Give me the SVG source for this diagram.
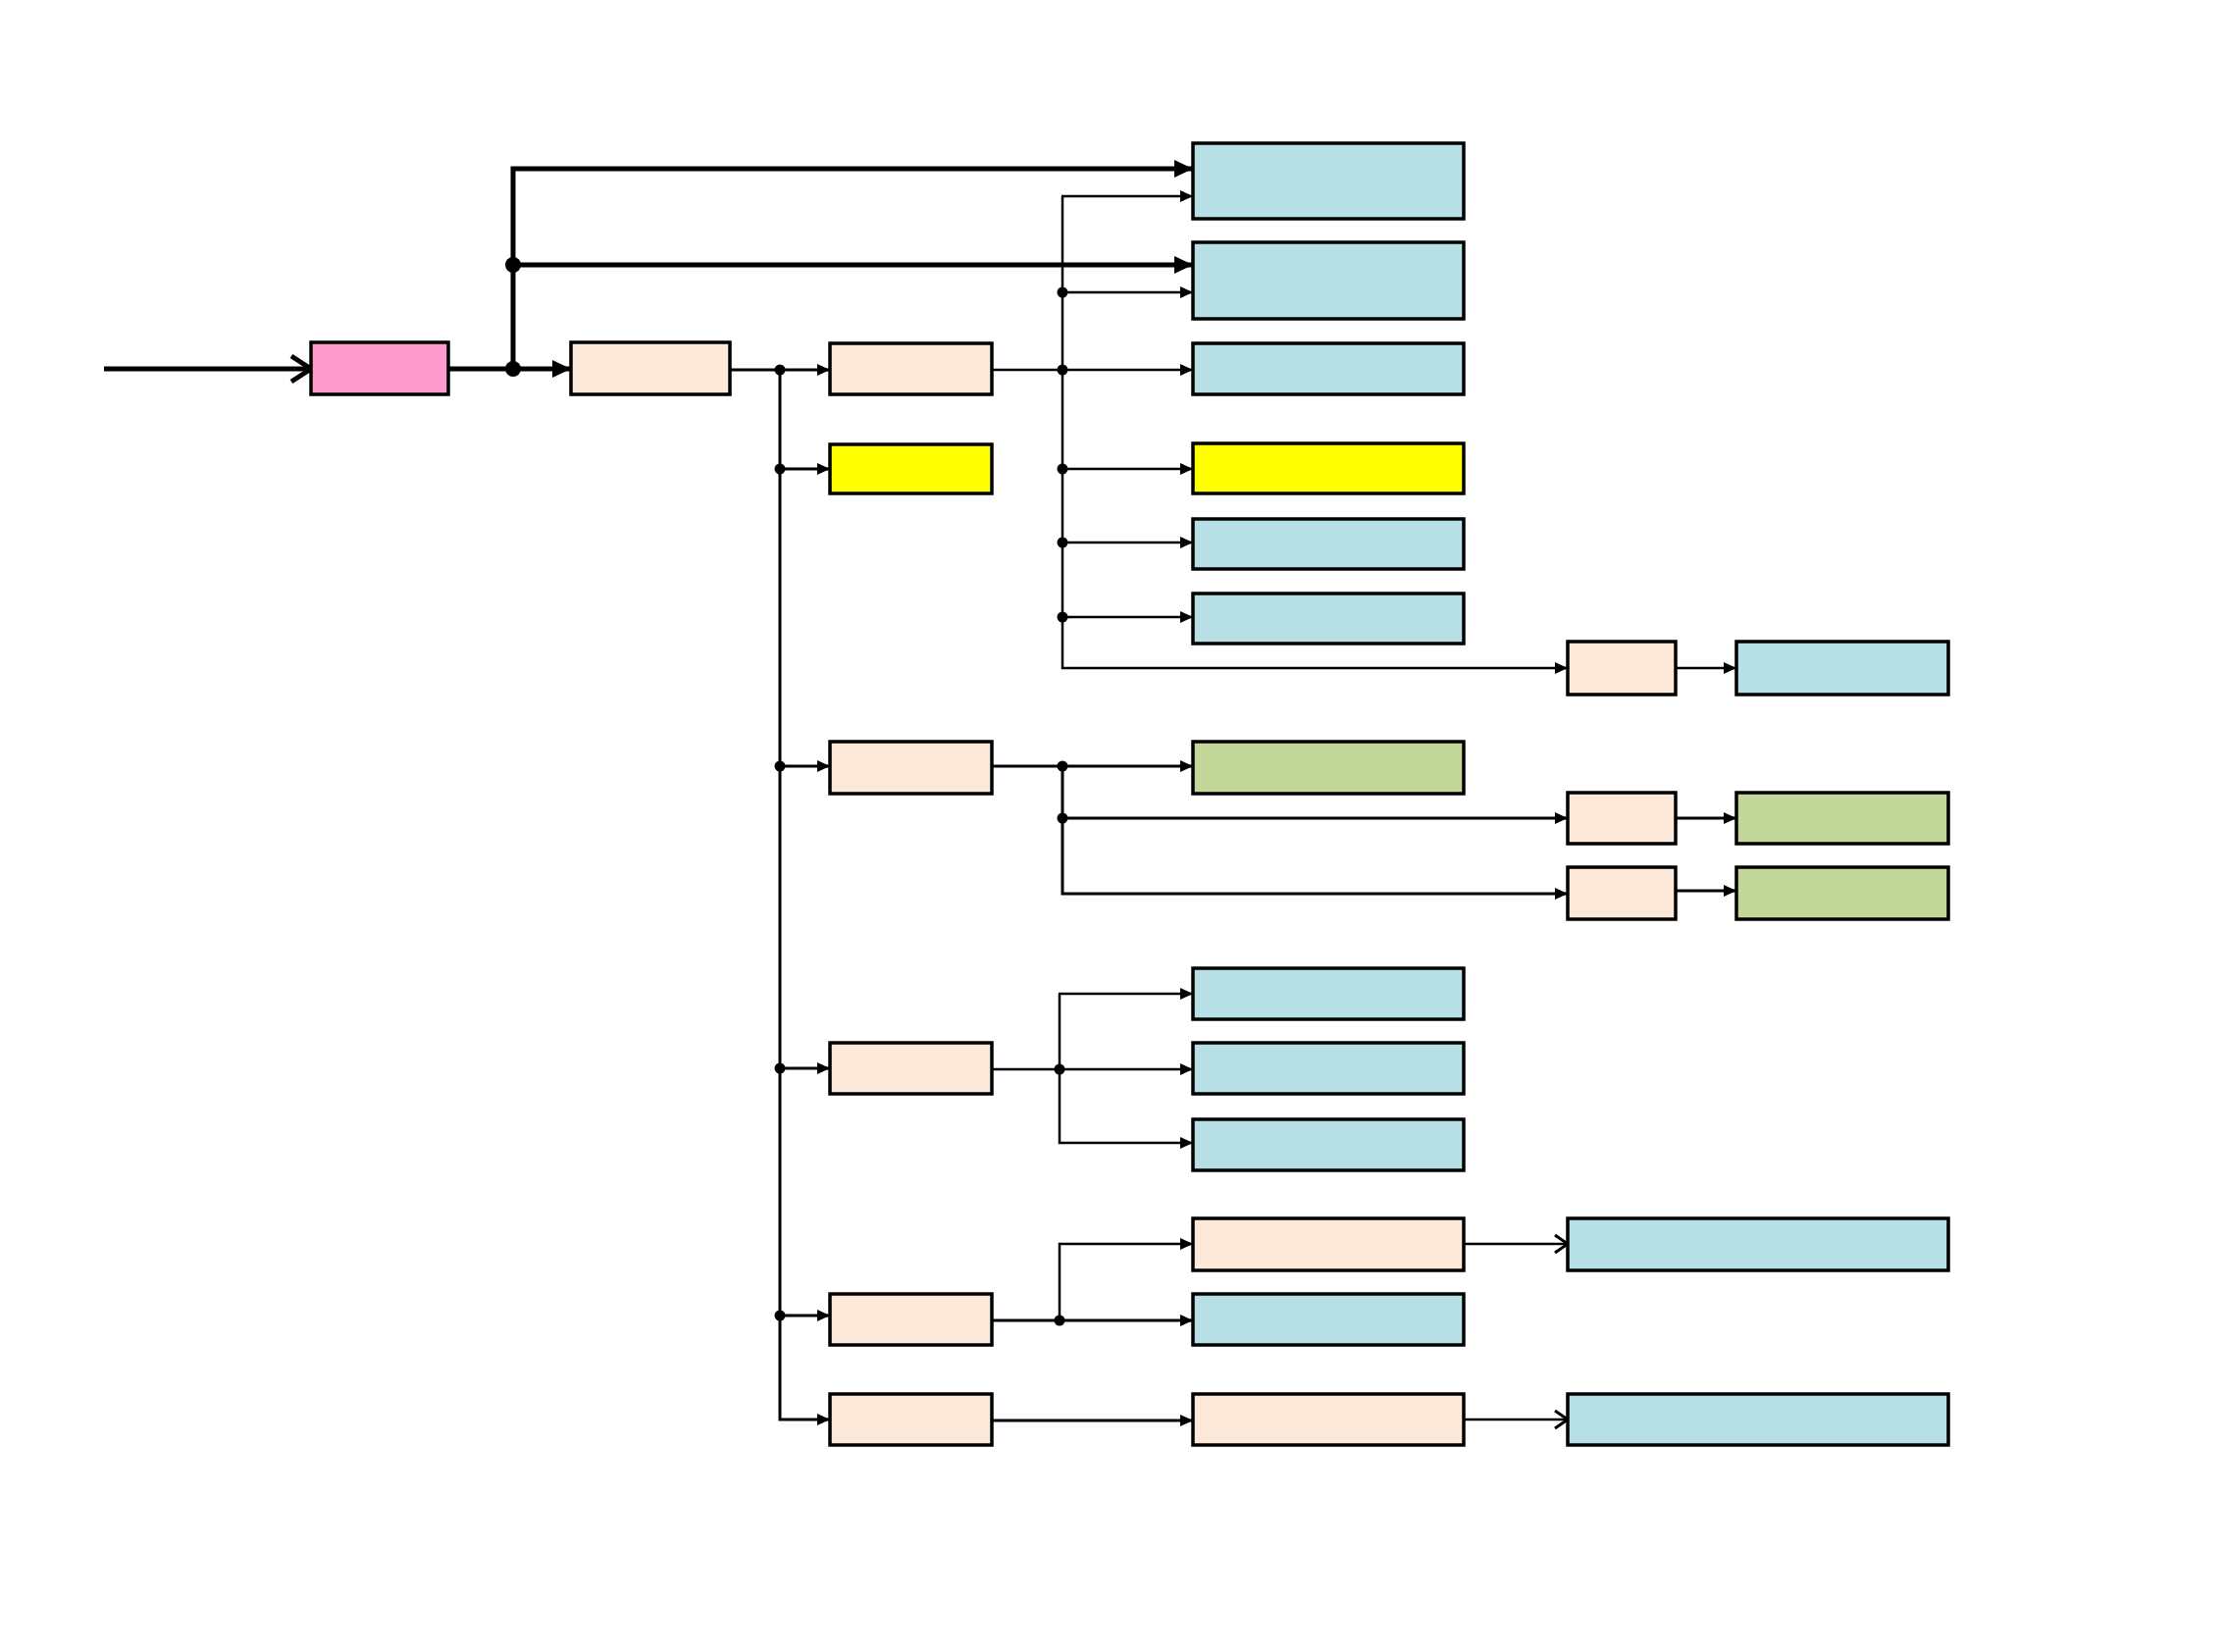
<svg xmlns="http://www.w3.org/2000/svg" width="2268" height="1684" viewBox="0 0 2268 1684">
<style>
.box{stroke:#000;stroke-width:3.5}
.pink{fill:#FF9ACD}
.beige{fill:#FCE9DA}
.blue{fill:#B7DFE6}
.yellow{fill:#FFFF00}
.green{fill:#C4D79B}
.thick{stroke:#000;stroke-width:5;fill:none}
.mid{stroke:#000;stroke-width:3;fill:none}
.thin{stroke:#000;stroke-width:2.5;fill:none}
.dot{fill:#000}
</style>
<defs>
<marker id="ahThick" markerUnits="userSpaceOnUse" markerWidth="20" markerHeight="20" refX="19" refY="9" orient="auto">
<path d="M0,0 L19,9 L0,18 z" fill="#000"/>
</marker>
<marker id="ahThin" markerUnits="userSpaceOnUse" markerWidth="14" markerHeight="14" refX="13" refY="6" orient="auto">
<path d="M0,0 L13,6 L0,12 z" fill="#000"/>
</marker>
<marker id="chevThick" markerUnits="userSpaceOnUse" markerWidth="30" markerHeight="34" refX="23" refY="16" orient="auto">
<path d="M3,3 L23,16 L3,29" fill="none" stroke="#000" stroke-width="5"/>
</marker>
<marker id="chevThin" markerUnits="userSpaceOnUse" markerWidth="18" markerHeight="22" refX="15" refY="11" orient="auto">
<path d="M2,2 L15,11 L2,20" fill="none" stroke="#000" stroke-width="3"/>
</marker>
</defs>
<rect x="0" y="0" width="2268" height="1684" fill="#fff"/>
<g id="connectors">
<line class="thick" x1="106" y1="376" x2="317" y2="376" marker-end="url(#chevThick)"/>
<line class="thick" x1="457" y1="376" x2="582" y2="376" marker-end="url(#ahThick)"/>
<path class="thick" d="M523,376 L523,172 L1216,172" marker-end="url(#ahThick)"/>
<line class="thick" x1="523" y1="270" x2="1216" y2="270" marker-end="url(#ahThick)"/>
<circle class="dot" cx="523" cy="376" r="8"/>
<circle class="dot" cx="523" cy="270" r="8"/>
<line class="mid" x1="744" y1="377" x2="846" y2="377" marker-end="url(#ahThin)"/>
<path class="mid" d="M795,377 L795,1447 L846,1447" marker-end="url(#ahThin)"/>
<line class="mid" x1="795" y1="478" x2="846" y2="478" marker-end="url(#ahThin)"/>
<line class="mid" x1="795" y1="781" x2="846" y2="781" marker-end="url(#ahThin)"/>
<line class="mid" x1="795" y1="1089" x2="846" y2="1089" marker-end="url(#ahThin)"/>
<line class="mid" x1="795" y1="1341" x2="846" y2="1341" marker-end="url(#ahThin)"/>
<circle class="dot" cx="795" cy="377" r="5.5"/>
<circle class="dot" cx="795" cy="478" r="5.5"/>
<circle class="dot" cx="795" cy="781" r="5.5"/>
<circle class="dot" cx="795" cy="1089" r="5.5"/>
<circle class="dot" cx="795" cy="1341" r="5.5"/>
<line class="thin" x1="1011" y1="377" x2="1216" y2="377" marker-end="url(#ahThin)"/>
<path class="thin" d="M1083,200 L1083,681 L1598,681" marker-end="url(#ahThin)"/>
<line class="thin" x1="1082" y1="200" x2="1216" y2="200" marker-end="url(#ahThin)"/>
<line class="thin" x1="1083" y1="298" x2="1216" y2="298" marker-end="url(#ahThin)"/>
<line class="thin" x1="1083" y1="478" x2="1216" y2="478" marker-end="url(#ahThin)"/>
<line class="thin" x1="1083" y1="553" x2="1216" y2="553" marker-end="url(#ahThin)"/>
<line class="thin" x1="1083" y1="629" x2="1216" y2="629" marker-end="url(#ahThin)"/>
<circle class="dot" cx="1083" cy="298" r="5.5"/>
<circle class="dot" cx="1083" cy="377" r="5.5"/>
<circle class="dot" cx="1083" cy="478" r="5.5"/>
<circle class="dot" cx="1083" cy="553" r="5.5"/>
<circle class="dot" cx="1083" cy="629" r="5.5"/>
<line class="thin" x1="1708" y1="681" x2="1770" y2="681" marker-end="url(#ahThin)"/>
<line class="mid" x1="1011" y1="781" x2="1216" y2="781" marker-end="url(#ahThin)"/>
<path class="mid" d="M1083,781 L1083,911 L1598,911" marker-end="url(#ahThin)"/>
<line class="mid" x1="1083" y1="834" x2="1598" y2="834" marker-end="url(#ahThin)"/>
<circle class="dot" cx="1083" cy="781" r="5.5"/>
<circle class="dot" cx="1083" cy="834" r="5.5"/>
<line class="mid" x1="1708" y1="834" x2="1770" y2="834" marker-end="url(#ahThin)"/>
<line class="mid" x1="1708" y1="908" x2="1770" y2="908" marker-end="url(#ahThin)"/>
<line class="thin" x1="1011" y1="1090" x2="1216" y2="1090" marker-end="url(#ahThin)"/>
<path class="thin" d="M1080,1013 L1080,1165 L1216,1165" marker-end="url(#ahThin)"/>
<line class="thin" x1="1079" y1="1013" x2="1216" y2="1013" marker-end="url(#ahThin)"/>
<circle class="dot" cx="1080" cy="1090" r="5.5"/>
<line class="mid" x1="1011" y1="1346" x2="1216" y2="1346" marker-end="url(#ahThin)"/>
<path class="thin" d="M1080,1346 L1080,1268 L1216,1268" marker-end="url(#ahThin)"/>
<circle class="dot" cx="1080" cy="1346" r="5.5"/>
<line class="thin" x1="1492" y1="1268" x2="1598" y2="1268" marker-end="url(#chevThin)"/>
<line class="mid" x1="1011" y1="1448" x2="1216" y2="1448" marker-end="url(#ahThin)"/>
<line class="thin" x1="1492" y1="1447" x2="1598" y2="1447" marker-end="url(#chevThin)"/>
</g>
<g id="n-pink"><rect class="box pink" x="317" y="349" width="140" height="53"/></g>
<g id="n-a"><rect class="box beige" x="582" y="349" width="162" height="53"/></g>
<g id="n-b"><rect class="box beige" x="846" y="350" width="165" height="52"/></g>
<g id="n-y1"><rect class="box yellow" x="846" y="453" width="165" height="50"/></g>
<g id="n-c"><rect class="box beige" x="846" y="756" width="165" height="53"/></g>
<g id="n-d"><rect class="box beige" x="846" y="1063" width="165" height="52"/></g>
<g id="n-e"><rect class="box beige" x="846" y="1319" width="165" height="52"/></g>
<g id="n-f"><rect class="box beige" x="846" y="1421" width="165" height="52"/></g>
<g id="n-blue1"><rect class="box blue" x="1216" y="146" width="276" height="77"/></g>
<g id="n-blue2"><rect class="box blue" x="1216" y="247" width="276" height="78"/></g>
<g id="n-blue3"><rect class="box blue" x="1216" y="350" width="276" height="52"/></g>
<g id="n-y2"><rect class="box yellow" x="1216" y="452" width="276" height="51"/></g>
<g id="n-blue4"><rect class="box blue" x="1216" y="529" width="276" height="51"/></g>
<g id="n-blue5"><rect class="box blue" x="1216" y="605" width="276" height="51"/></g>
<g id="n-green1"><rect class="box green" x="1216" y="756" width="276" height="53"/></g>
<g id="n-dblue1"><rect class="box blue" x="1216" y="987" width="276" height="52"/></g>
<g id="n-dblue2"><rect class="box blue" x="1216" y="1063" width="276" height="52"/></g>
<g id="n-dblue3"><rect class="box blue" x="1216" y="1141" width="276" height="52"/></g>
<g id="n-ebeige"><rect class="box beige" x="1216" y="1242" width="276" height="53"/></g>
<g id="n-eblue"><rect class="box blue" x="1216" y="1319" width="276" height="52"/></g>
<g id="n-fbeige"><rect class="box beige" x="1216" y="1421" width="276" height="52"/></g>
<g id="n-s1"><rect class="box beige" x="1598" y="654" width="110" height="54"/></g>
<g id="n-s2"><rect class="box beige" x="1598" y="808" width="110" height="52"/></g>
<g id="n-s3"><rect class="box beige" x="1598" y="884" width="110" height="53"/></g>
<g id="n-r1"><rect class="box blue" x="1770" y="654" width="216" height="54"/></g>
<g id="n-r2"><rect class="box green" x="1770" y="808" width="216" height="52"/></g>
<g id="n-r3"><rect class="box green" x="1770" y="884" width="216" height="53"/></g>
<g id="n-wblue1"><rect class="box blue" x="1598" y="1242" width="388" height="53"/></g>
<g id="n-wblue2"><rect class="box blue" x="1598" y="1421" width="388" height="52"/></g>
</svg>
